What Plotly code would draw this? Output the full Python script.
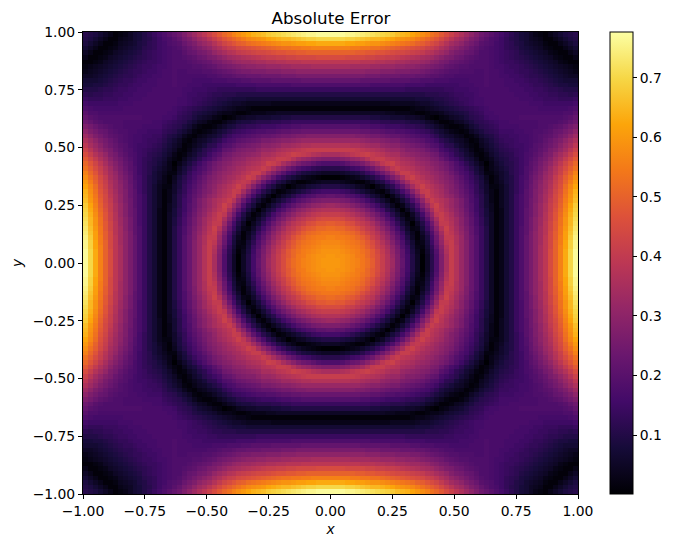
import numpy as np
import plotly.graph_objects as go

# Values, one upper right quadrant at cell centres 0.01, 0.03, ... 0.99.
# The picture is symmetric about both axes and the diagonal, so each row starts on the diagonal (x = y).
cell_centres = [round(0.01 + 0.02 * k, 2) for k in range(50)]
rows = [
[.60,.60,.59,.58,.57,.56,.54,.52,.49,.45,.41,.37,.33,.27,.22,.16,.10,.05,.00,.05,.11,.18,.27,.35,.41,.37,.32,.28,.23,.19,.14,.10,.05,.01,.03,.07,.10,.14,.18,.22,.26,.30,.35,.39,.45,.50,.56,.63,.70,.77],
[.59,.59,.58,.57,.55,.54,.51,.48,.45,.41,.37,.32,.27,.21,.16,.10,.05,.00,.05,.11,.18,.27,.35,.41,.37,.32,.28,.23,.19,.14,.10,.05,.01,.03,.07,.10,.14,.18,.22,.26,.30,.35,.39,.45,.50,.56,.63,.70,.77],
[.58,.57,.56,.55,.53,.51,.48,.44,.40,.36,.31,.26,.21,.15,.09,.04,.01,.06,.12,.19,.28,.36,.41,.37,.32,.28,.23,.19,.14,.10,.05,.01,.03,.07,.10,.14,.18,.22,.26,.30,.35,.39,.45,.50,.56,.63,.70,.77],
[.56,.55,.54,.52,.49,.46,.42,.39,.35,.30,.25,.19,.14,.08,.03,.02,.07,.13,.21,.29,.37,.41,.37,.32,.28,.23,.19,.14,.10,.05,.01,.03,.07,.10,.14,.18,.22,.26,.30,.35,.39,.44,.50,.56,.62,.69,.76],
[.54,.53,.51,.48,.45,.41,.37,.33,.28,.23,.18,.12,.07,.02,.03,.08,.15,.23,.31,.39,.41,.36,.32,.28,.23,.19,.14,.10,.05,.01,.03,.07,.10,.14,.18,.22,.26,.30,.34,.39,.44,.50,.55,.62,.69,.76],
[.51,.49,.46,.42,.39,.35,.31,.26,.21,.16,.10,.05,.01,.04,.09,.16,.24,.32,.40,.40,.36,.32,.27,.23,.19,.14,.10,.05,.01,.03,.07,.10,.14,.18,.22,.26,.30,.34,.39,.44,.49,.55,.61,.68,.75],
[.46,.43,.40,.37,.33,.29,.24,.19,.14,.08,.04,.01,.06,.11,.18,.26,.34,.41,.39,.35,.31,.27,.22,.18,.14,.10,.05,.01,.03,.07,.10,.14,.18,.21,.26,.30,.34,.38,.44,.49,.54,.61,.67,.74],
[.40,.38,.34,.30,.26,.21,.16,.11,.06,.02,.03,.08,.14,.21,.29,.37,.42,.38,.34,.30,.26,.22,.18,.14,.10,.05,.01,.03,.07,.10,.14,.18,.21,.25,.29,.34,.38,.43,.48,.54,.60,.66,.73],
[.35,.31,.27,.23,.18,.13,.08,.04,.00,.05,.10,.16,.24,.32,.40,.40,.37,.33,.29,.25,.21,.17,.13,.09,.05,.01,.03,.07,.10,.14,.17,.21,.25,.29,.33,.38,.43,.48,.53,.59,.65,.72],
[.27,.24,.19,.15,.10,.06,.02,.03,.08,.13,.20,.28,.35,.41,.39,.36,.33,.29,.25,.21,.17,.13,.09,.05,.01,.03,.07,.10,.14,.17,.21,.25,.29,.33,.37,.42,.47,.53,.59,.65,.71],
[.20,.16,.11,.07,.03,.01,.05,.10,.16,.24,.31,.39,.41,.38,.35,.31,.28,.24,.20,.16,.12,.08,.05,.01,.03,.07,.10,.14,.17,.21,.24,.28,.32,.37,.42,.47,.52,.58,.64,.70],
[.11,.08,.04,.00,.04,.09,.14,.21,.28,.35,.41,.39,.36,.33,.30,.27,.23,.19,.15,.12,.08,.04,.01,.03,.07,.10,.14,.17,.21,.24,.28,.32,.36,.41,.46,.51,.57,.63,.69],
[.04,.01,.03,.08,.12,.18,.26,.32,.39,.42,.38,.35,.32,.29,.26,.22,.19,.15,.11,.07,.04,.01,.04,.07,.10,.14,.17,.20,.24,.28,.32,.36,.41,.45,.50,.56,.62,.68],
[.03,.07,.11,.17,.23,.30,.37,.41,.39,.37,.35,.32,.29,.26,.22,.18,.15,.11,.07,.03,.01,.04,.07,.10,.14,.17,.20,.24,.27,.31,.35,.40,.44,.49,.55,.60,.66],
[.11,.16,.22,.29,.35,.41,.39,.37,.35,.32,.30,.27,.24,.21,.18,.14,.11,.07,.03,.01,.04,.07,.10,.14,.17,.20,.23,.27,.31,.35,.39,.44,.48,.54,.59,.65],
[.21,.28,.34,.40,.41,.38,.36,.34,.31,.28,.26,.23,.20,.17,.13,.10,.06,.03,.01,.04,.07,.10,.13,.16,.20,.23,.27,.30,.34,.38,.43,.47,.53,.58,.64],
[.34,.39,.42,.39,.37,.35,.33,.30,.28,.25,.22,.19,.16,.13,.09,.06,.02,.02,.04,.07,.10,.13,.16,.19,.23,.26,.30,.33,.37,.42,.46,.52,.57,.62],
[.40,.39,.37,.35,.33,.31,.29,.27,.24,.21,.18,.15,.12,.09,.05,.01,.03,.05,.08,.10,.13,.16,.19,.22,.26,.29,.33,.36,.41,.45,.50,.55,.60],
[.37,.35,.34,.32,.30,.28,.26,.23,.20,.17,.14,.11,.08,.04,.01,.03,.06,.08,.10,.13,.16,.18,.22,.25,.28,.32,.35,.40,.44,.49,.53,.58],
[.34,.32,.31,.29,.27,.24,.21,.18,.16,.13,.09,.06,.02,.02,.04,.06,.08,.11,.13,.15,.18,.21,.24,.27,.31,.34,.38,.42,.47,.51,.56],
[.31,.29,.27,.25,.22,.19,.17,.14,.11,.08,.05,.01,.03,.05,.07,.09,.11,.13,.15,.18,.20,.23,.26,.29,.33,.37,.41,.45,.49,.53],
[.28,.26,.24,.21,.18,.15,.12,.09,.06,.03,.00,.03,.06,.08,.10,.11,.13,.15,.17,.20,.22,.25,.28,.31,.35,.39,.43,.47,.51],
[.23,.20,.17,.15,.12,.09,.07,.04,.01,.02,.04,.07,.09,.10,.12,.13,.15,.17,.19,.21,.24,.26,.29,.33,.36,.40,.44,.48],
[.18,.15,.12,.10,.07,.05,.02,.01,.03,.06,.08,.10,.11,.12,.14,.15,.17,.18,.20,.22,.25,.27,.31,.34,.37,.41,.45],
[.13,.11,.08,.06,.03,.01,.02,.05,.07,.09,.11,.12,.13,.14,.15,.16,.18,.19,.21,.23,.26,.28,.31,.34,.38,.42],
[.08,.06,.04,.02,.01,.04,.06,.08,.10,.12,.13,.14,.15,.15,.16,.17,.19,.20,.22,.24,.26,.29,.32,.35,.39],
[.05,.03,.01,.02,.05,.07,.09,.11,.13,.14,.14,.15,.16,.16,.17,.18,.19,.21,.23,.25,.27,.30,.33,.36],
[.01,.02,.04,.07,.09,.10,.12,.14,.14,.15,.15,.16,.16,.17,.18,.19,.20,.21,.23,.25,.27,.30,.33],
[.05,.07,.09,.11,.12,.13,.15,.15,.15,.16,.16,.17,.17,.18,.18,.19,.20,.22,.23,.25,.27,.30],
[.09,.11,.12,.13,.14,.16,.16,.16,.16,.17,.17,.17,.17,.18,.18,.19,.20,.21,.23,.25,.27],
[.12,.13,.14,.15,.16,.16,.17,.17,.17,.17,.17,.17,.18,.18,.18,.18,.19,.20,.22,.24],
[.15,.16,.16,.17,.17,.17,.17,.18,.18,.18,.18,.18,.18,.18,.18,.18,.19,.20,.22],
[.16,.17,.17,.17,.17,.17,.17,.17,.17,.17,.17,.17,.17,.17,.17,.18,.18,.20],
[.17,.17,.17,.17,.17,.17,.17,.17,.17,.16,.16,.16,.16,.16,.16,.17,.18],
[.17,.17,.17,.17,.17,.17,.16,.16,.16,.15,.15,.15,.15,.15,.15,.16],
[.17,.17,.17,.16,.16,.16,.15,.15,.14,.14,.14,.13,.13,.13,.14],
[.17,.16,.16,.16,.15,.15,.14,.14,.13,.13,.12,.12,.11,.12],
[.16,.16,.15,.15,.14,.14,.13,.12,.12,.11,.10,.10,.10],
[.15,.15,.14,.13,.13,.12,.11,.10,.09,.09,.08,.08],
[.14,.13,.13,.12,.11,.10,.09,.08,.07,.07,.07],
[.12,.12,.11,.10,.09,.08,.07,.06,.05,.05],
[.11,.10,.09,.08,.07,.06,.05,.04,.03],
[.09,.08,.07,.06,.05,.04,.03,.02],
[.07,.06,.05,.03,.02,.01,.01],
[.05,.03,.02,.01,.01,.03],
[.02,.01,.01,.03,.05],
[.01,.03,.05,.07],
[.05,.07,.09],
[.09,.10],
[.11],
]
axis_ticks = [-1.0, -0.75, -0.5, -0.25, 0.0, 0.25, 0.5, 0.75, 1.0]
cbar_ticks = [0.1, 0.2, 0.3, 0.4, 0.5, 0.6, 0.7]
title_text = "Absolute Error"

n = len(cell_centres)
q = np.zeros((n, n))
for j, row in enumerate(rows):
    assert len(row) == n - j, (j, len(row))
    for k, v in enumerate(row):
        q[j, j + k] = v
        q[j + k, j] = v
right = np.vstack([q[::-1], q])
z = np.hstack([right[:, ::-1], right])
c = np.array(cell_centres)
axis = np.concatenate([-c[::-1], c])

inferno = [[0,"#000004"],[0.1,"#160b39"],[0.2,"#420a68"],[0.3,"#6a176e"],[0.4,"#932667"],
           [0.5,"#bc3754"],[0.6,"#dd513a"],[0.7,"#f37819"],[0.8,"#fca50a"],[0.9,"#f6d746"],[1,"#fcffa4"]]
font = dict(family="DejaVu Sans", size=13.9, color="black")

fig = go.Figure(go.Heatmap(
    x=axis, y=axis, z=z, colorscale=inferno, zmin=0.001, zmax=0.777,
    colorbar=dict(x=(610-83)/496, xanchor="left", xref="paper", y=0.5, yanchor="middle", len=1, lenmode="fraction",
                  thickness=23, outlinecolor="black", outlinewidth=1, ticks="outside", ticklen=4, tickwidth=1,
                  tickcolor="black", tickvals=cbar_ticks, ticktext=[f"{v:.1f}" for v in cbar_ticks],
                  tickfont=font, xpad=0, ypad=0),
))
axcommon = dict(range=[-1, 1], tickvals=axis_ticks, ticktext=[f"{v:.2f}".replace("-", "\u2212") for v in axis_ticks],
                ticks="outside", ticklen=4, tickwidth=1, tickcolor="black", showline=True, linecolor="black",
                linewidth=1, mirror=True, showgrid=False, zeroline=False, tickfont=font)
fig.update_xaxes(**axcommon, title=dict(text="<i>x</i>", font=font, standoff=6))
fig.update_yaxes(**axcommon, title=dict(text="<i>y</i>", font=font, standoff=6))
fig.update_layout(
    width=674, height=547, autosize=False, paper_bgcolor="white", plot_bgcolor="white",
    margin=dict(l=83, r=95, t=32, b=53, pad=0),
    title=dict(text=title_text, x=331/674, xanchor="center", y=1-18/547, yanchor="middle",
               font=dict(family="DejaVu Sans", size=16.7, color="black")),
)
fig.write_html("out.html", config={"displayModeBar": False}, post_script="document.body.style.margin='0';")
